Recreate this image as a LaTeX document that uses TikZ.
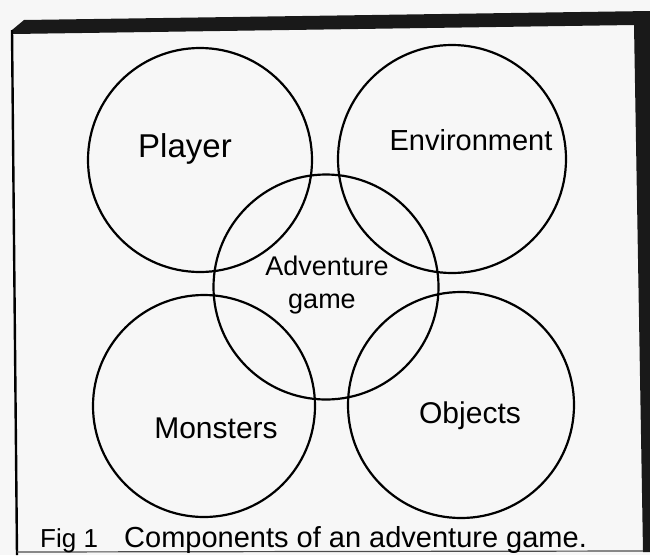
\documentclass[tikz,border=0pt]{standalone}
\usepackage{fontspec}
\setmainfont{Liberation Sans}
\usetikzlibrary{positioning}

\tikzset{ring/.style={draw,circle,line width=2.2pt,inner sep=0pt},
  word/.style={inner sep=0pt,anchor=base}}

\begin{document}
\begin{tikzpicture}[x=1pt,y=-1pt]
\useasboundingbox (0,0) rectangle (650,555);
\fill[black!3] (0,0) rectangle (650,555);
\fill[black!90] (12,30) -- (24,20) -- (650,11) -- (650,552) -- (643,552) -- (634,25) -- (13,34) -- cycle;
\draw[line width=2.4pt] (12,30) -- (17,555);
\draw[line width=1.2pt,black!70] (17,552) -- (643,551);
\node[ring,minimum size=224pt] (player) at (200,160) {};
\node[ring,minimum size=228pt] (environment) at (452,159) {};
\node[ring,minimum size=225pt] (adventure) at (326,287) {};
\node[ring,minimum size=222pt] (monsters) at (204,406) {};
\node[ring,minimum size=226pt] (objects) at (461,405) {};
\node[word,font=\fontsize{33}{38}\selectfont] (tplayer) at (185,157) {Player};
\node[word,font=\fontsize{29}{34}\selectfont] (tenvironment) at (471,150) {Environment};
\node[word,font=\fontsize{27}{32}\selectfont] (tadventure) at (327,275) {Adventure};
\node[word,font=\fontsize{27}{32}\selectfont] (tgame) at (322,308) {game};
\node[word,font=\fontsize{30}{35}\selectfont] (tmonsters) at (216,438) {Monsters};
\node[word,font=\fontsize{30}{35}\selectfont] (tobjects) at (470,423) {Objects};
\node[word,anchor=base west,font=\fontsize{26}{30}\selectfont] (fig) at (40,547) {Fig 1};
\node[word,anchor=base west,font=\fontsize{29}{34}\selectfont] (caption) at (124,547) {Components of an adventure game.};
\end{tikzpicture}
\end{document}
